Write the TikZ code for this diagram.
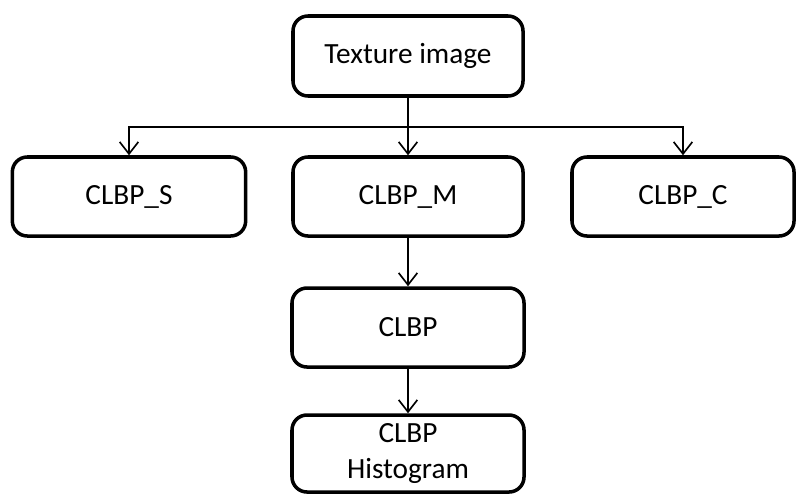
\documentclass[tikz,border=0pt]{standalone}
\usepackage{fontspec}
\setmainfont{Carlito}
\usetikzlibrary{arrows.meta}

\tikzset{
	blok/.style={draw, line width=3pt, rounded corners=0.45cm, minimum height=2.37cm, align=center, font=\fontsize{25}{31}\selectfont},
	arr/.style={-{Straight Barb[length=3.6mm, width=5.6mm]}, line width=1.4pt}
}

\begin{document}
\begin{tikzpicture}[x=0.03cm, y=-0.03cm]
		\useasboundingbox (0,0) rectangle (797,495);

		\node[blok, minimum width=6.9cm, minimum height=2.4cm] (tex) at (408, 56) {Texture image};
		\node[blok, minimum width=7.0cm] (cs) at (129, 196.5) {CLBP\_S};
		\node[blok, minimum width=6.9cm] (cm) at (408, 196.5) {CLBP\_M};
		\node[blok, minimum width=6.66cm] (cc) at (683, 196.5) {CLBP\_C};
		\node[blok, minimum width=6.96cm] (c) at (408, 327.5) {CLBP};
		\node[blok, minimum width=6.96cm, minimum height=2.31cm] (h) at (408, 453.5) {CLBP\\Histogram};

		\coordinate (split) at (408, 127);

		\draw[line width=1.4pt] (tex) -- (split);
		\draw[arr] (split) -| (cs);
		\draw[arr] (split) -| (cc);
		\path (split) edge[arr] (cm)
		(cm) edge[arr] (c)
		(c) edge[arr] (h);

	\end{tikzpicture}
\end{document}
